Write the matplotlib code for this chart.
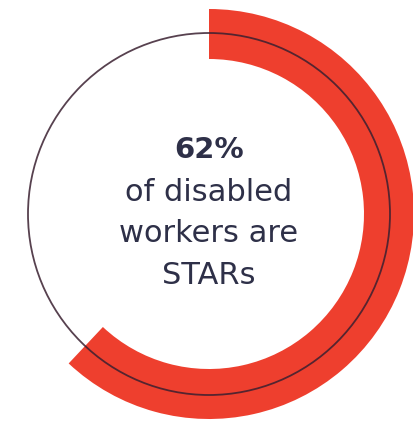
import matplotlib
matplotlib.use("Agg")
import matplotlib.pyplot as plt
from matplotlib.patches import Circle

# share of disabled workers who are STARs
share = 62
values = [share, 100 - share]
headline = f"{share}%"
caption_lines = ["of disabled", "workers are", "STARs"]

red = "#ee3f2e"
ink = "#2e3048"

fig = plt.figure(figsize=(4.13, 4.27), dpi=100)
ax = fig.add_axes([0, 0, 1, 1])

cx, cy = 209, 212
ax.pie(values, colors=[red, "none"], startangle=90, counterclock=False,
       radius=205, center=(cx, cy),
       wedgeprops=dict(width=50, linewidth=0))

# thin full ring running through the middle of the red band
ax.add_patch(Circle((cx, cy), 181, fill=False, edgecolor="#3a2030",
                    linewidth=1.3, alpha=0.85, zorder=3))

ax.set_xlim(0, 413)
ax.set_ylim(0, 427)
ax.set_aspect("equal")
ax.axis("off")

font = "DejaVu Sans"
ax.text(cx, 427 - 150, headline, ha="center", va="center", fontsize=21,
        fontweight="bold", color=ink, family=font)
for i, line in enumerate(caption_lines):
    ax.text(cx, 427 - (193 + 41 * i), line, ha="center", va="center",
            fontsize=22, color=ink, family=font)

fig.savefig("out.png", dpi=100, facecolor="white")
